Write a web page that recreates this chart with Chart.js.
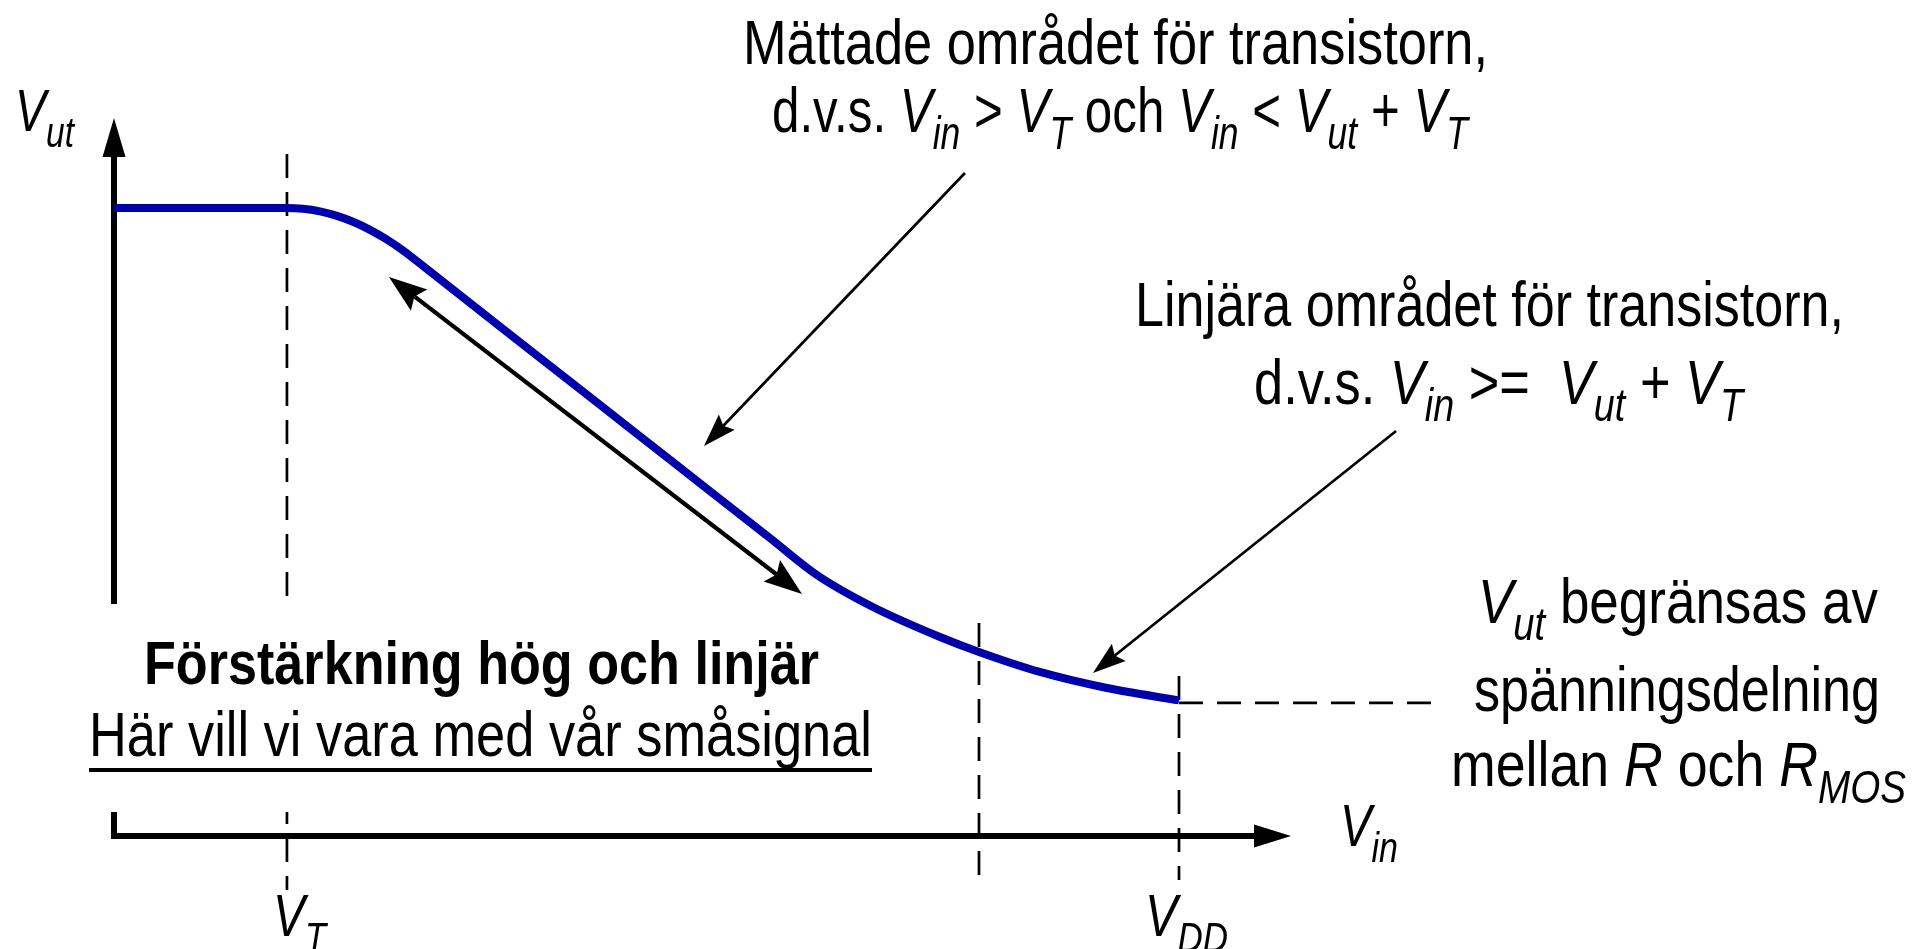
<!DOCTYPE html>
<html><head><meta charset="utf-8">
<script src="https://cdn.jsdelivr.net/npm/chart.js@4.4.1/dist/chart.umd.min.js"></script>
<style>html,body{margin:0;padding:0;background:#fff;overflow:hidden}#wrap{position:relative;width:1931px;height:949px}</style>
</head><body><div id="wrap"><canvas id="c"></canvas></div>
<script>
// Transfer curve V_ut(V_in) (VDD = 5 units)
const vin = [0, 0.812, 0.887, 0.967, 1.047, 1.122, 1.202, 1.282, 1.357, 1.437, 1.516, 1.826, 2.141, 2.455, 2.765, 3.080, 3.300, 3.563, 3.878, 4.061, 4.347, 4.662, 5.0];
const vut = [5.0, 5.0, 4.994, 4.973, 4.937, 4.890, 4.826, 4.748, 4.662, 4.557, 4.451, 4.038, 3.620, 3.202, 2.790, 2.371, 2.078, 1.823, 1.584, 1.465, 1.306, 1.178, 1.08];
// Marked input voltages on the V_in axis
const markNames = ['VT', 'VMID', 'VDD'];
const markValues = [0.812, 4.061, 5.0];
const vutFloor = 1.06;
// Annotation arrows [x1, y1, x2, y2] in data units
const arrowGain = [1.291, 4.451, 3.230, 1.927];
const arrowSat = [3.995, 5.279, 2.770, 3.105];
const arrowLin = [6.019, 3.225, 4.596, 1.298];

const FAM = '"Liberation Sans Narrow", "Liberation Sans", Arial, sans-serif';

function fontFor(r, size) {
  const s = r.s ? size * 0.72 : size;
  const st = (r.i || r.s) ? 'italic ' : '';
  const wt = r.b ? 'bold ' : '';
  return st + wt + s.toFixed(1) + 'px ' + FAM;
}
function drawRich(ctx, runs, x0, x1, base, size) {
  let w = 0;
  runs.forEach(r => { ctx.font = fontFor(r, size); r.w = ctx.measureText(r.t).width; w += r.w; });
  const sx = (x1 - x0) / w;
  ctx.save();
  ctx.translate(x0, base);
  ctx.scale(sx, 1);
  ctx.fillStyle = '#000';
  ctx.textBaseline = 'alphabetic';
  ctx.textAlign = 'left';
  let cx = 0;
  runs.forEach(r => { ctx.font = fontFor(r, size); ctx.fillText(r.t, cx, r.s ? size * 0.27 : 0); cx += r.w; });
  ctx.restore();
}
function head(ctx, x2, y2, a, hl, hw, notch) {
  const c = Math.cos(a), s = Math.sin(a);
  const bx = x2 - hl * c, by = y2 - hl * s;
  ctx.beginPath();
  ctx.moveTo(x2, y2);
  ctx.lineTo(bx + hw * s, by - hw * c);
  ctx.lineTo(x2 - (hl - notch) * c, y2 - (hl - notch) * s);
  ctx.lineTo(bx - hw * s, by + hw * c);
  ctx.closePath();
  ctx.fill();
}
function arrow(ctx, x1, y1, x2, y2, lw, hl, hw, notch, both) {
  const a = Math.atan2(y2 - y1, x2 - x1);
  const c = Math.cos(a), s = Math.sin(a);
  ctx.lineWidth = lw; ctx.strokeStyle = '#000'; ctx.fillStyle = '#000'; ctx.setLineDash([]);
  ctx.beginPath();
  const sh = hl - notch;
  ctx.moveTo(both ? x1 + sh * c : x1, both ? y1 + sh * s : y1);
  ctx.lineTo(x2 - sh * c, y2 - sh * s);
  ctx.stroke();
  head(ctx, x2, y2, a, hl, hw, notch);
  if (both) head(ctx, x1, y1, a + Math.PI, hl, hw, notch);
}

const deco = {
  id: 'deco',
  beforeDatasetsDraw(chart) {
    const ctx = chart.ctx, X = v => chart.scales.x.getPixelForValue(v), Y = v => chart.scales.y.getPixelForValue(v);
    ctx.save();
    // dashed guide lines
    ctx.strokeStyle = '#000'; ctx.lineWidth = 2.7; ctx.setLineDash([24, 14]); ctx.lineCap = 'butt';
    const tops = [5.43, 1.696, 1.274];
    const bots = [-0.43, -0.35, -0.35];
    markValues.forEach((v, i) => { ctx.beginPath(); ctx.moveTo(X(v), Y(tops[i])); ctx.lineTo(X(v), Y(bots[i])); ctx.stroke(); });
    ctx.beginPath(); ctx.moveTo(X(markValues[2]), Y(vutFloor)); ctx.lineTo(X(6.197), Y(vutFloor)); ctx.stroke();
    ctx.setLineDash([]);
    // axes
    ctx.lineWidth = 6; ctx.strokeStyle = '#000'; ctx.fillStyle = '#000';
    ctx.beginPath(); ctx.moveTo(X(0), Y(0) + 3); ctx.lineTo(X(0), Y(5.717) + 36); ctx.stroke();
    head(ctx, X(0), Y(5.717), -Math.PI / 2, 39, 11.5, 0);
    ctx.beginPath(); ctx.moveTo(X(0) - 3, Y(0)); ctx.lineTo(X(5.526) - 34, Y(0)); ctx.stroke();
    head(ctx, X(5.526), Y(0), 0, 37, 11.5, 0);
    // white block behind the gain text
    ctx.fillStyle = '#fff';
    ctx.fillRect(60, 604, 360, 208);
    // arrows
    arrow(ctx, X(arrowGain[0]), Y(arrowGain[1]), X(arrowGain[2]), Y(arrowGain[3]), 4.2, 38, 13.5, 6, true);
    arrow(ctx, X(arrowSat[0]), Y(arrowSat[1]), X(arrowSat[2]), Y(arrowSat[3]), 2.7, 33, 11, 5, false);
    arrow(ctx, X(arrowLin[0]), Y(arrowLin[1]), X(arrowLin[2]), Y(arrowLin[3]), 2.7, 33, 11, 5, false);
    ctx.restore();
  },
  afterDraw(chart) {
    const ctx = chart.ctx;
    const N = t => ({ t }), I = t => ({ t, i: 1 }), S = t => ({ t, s: 1 }), B = t => ({ t, b: 1 });
    drawRich(ctx, [N('Mättade området för transistorn,')], 743, 1488, 64, 63);
    drawRich(ctx, [N('d.v.s. '), I('V'), S('in'), N(' > '), I('V'), S('T'), N(' och '), I('V'), S('in'), N(' < '), I('V'), S('ut'), N(' + '), I('V'), S('T')], 772, 1468, 132, 63);
    drawRich(ctx, [N('Linjära området för transistorn,')], 1135, 1844, 326, 63);
    drawRich(ctx, [N('d.v.s. '), I('V'), S('in'), N(' >=  '), I('V'), S('ut'), N(' + '), I('V'), S('T')], 1254, 1743, 404, 63);
    drawRich(ctx, [I('V'), S('ut'), N(' begränsas av')], 1478, 1878, 623, 63);
    drawRich(ctx, [N('spänningsdelning')], 1474, 1880, 711, 63);
    drawRich(ctx, [N('mellan '), I('R'), N(' och '), I('R'), S('MOS')], 1451, 1906, 786, 63);
    drawRich(ctx, [B('Förstärkning hög och linjär')], 144, 819, 684, 62);
    drawRich(ctx, [N('Här vill vi vara med vår småsignal')], 89, 872, 756, 63);
    ctx.save(); ctx.fillStyle = '#000'; ctx.fillRect(89, 768, 783, 4); ctx.restore();
    drawRich(ctx, [I('V'), S('ut')], 15, 74, 131, 60);
    drawRich(ctx, [I('V'), S('in')], 1340, 1398, 846, 60);
    drawRich(ctx, [I('V'), S('T')], 273, 326, 936, 60);
    drawRich(ctx, [I('V'), S('DD')], 1145, 1228, 936, 60);
  }
};

new Chart(document.getElementById('c'), {
  type: 'scatter',
  data: { datasets: [{
    data: vin.map((x, i) => ({ x, y: vut[i] })),
    showLine: true, borderColor: 'rgb(0,0,170)', borderWidth: 8, pointRadius: 0,
    cubicInterpolationMode: 'monotone', fill: false, borderCapStyle: 'butt', borderJoinStyle: 'round'
  }] },
  options: {
    responsive: true, maintainAspectRatio: false, animation: false, events: [],
    layout: { padding: 0 },
    plugins: { legend: { display: false }, tooltip: { enabled: false }, title: { display: false } },
    scales: {
      x: { type: 'linear', min: -0.5352, max: 8.5305, display: false },
      y: { type: 'linear', min: -0.8997, max: 6.656, display: false }
    }
  },
  plugins: [deco]
});
</script></body></html>
